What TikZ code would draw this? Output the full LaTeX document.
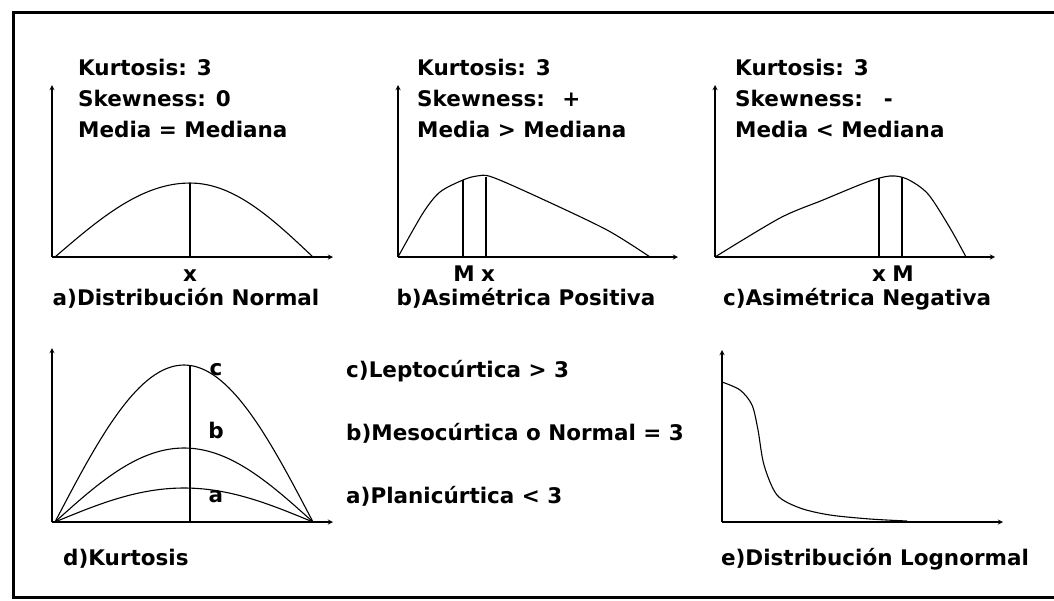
\documentclass[tikz,border=0pt]{standalone}
\usepackage{fontspec}
\setmainfont{DejaVu Sans}
\usepackage{tikz}
\usetikzlibrary{positioning}
\usetikzlibrary{calc}

\tikzset{
  lbl/.style={font=\fontsize{21.5}{25}\selectfont\bfseries,inner sep=0pt},
  axis/.style={->,line width=1.3pt},
  curve/.style={line width=1.1pt},
}

\begin{document}
\begin{tikzpicture}[>=stealth,x=1pt,y=-1pt]
  \useasboundingbox (0,0) rectangle (1054,600);
  % frame
  \draw[line width=3pt] (1054,12) -- (13,12) -- (13,597) -- (1054,597);

  % a) normal
  \draw[axis] (52,257) -- (52,85);
  \draw[axis] (52,257) -- (333,257);
  \draw[curve] plot[smooth,domain=0:90,samples=15] ({55+\x/90*135},{257-74*sin(\x)})
    -- plot[smooth,domain=90:180,samples=15] ({190+(\x-90)/90*123},{257-74*sin(\x)});
  \draw[line width=1.3pt] (190,183) -- (190,257);
  \node[lbl,anchor=base west] (ka) at (78,75) {Kurtosis: 3};
  \node[lbl,anchor=base west] (sa) at (78,106) {Skewness: 0};
  \node[lbl,anchor=base west] (ma) at (78,137) {Media = Mediana};
  \node[lbl,anchor=base] (xa) at (190,281) {x};
  \node[lbl,anchor=base] (ta) at (186,305) {a)Distribución Normal};

  % b) asimetrica positiva
  \draw[axis] (398,257) -- (398,85);
  \draw[axis] (398,257) -- (678,257);
  \draw[curve] plot[smooth] coordinates {(398,257) (423,213) (440,192) (463,180) (477,176) (492,177) (540,198) (607,230) (650,257)};
  \draw[line width=1.3pt] (463,180) -- (463,257);
  \draw[line width=1.3pt] (486,177) -- (486,257);
  \node[lbl,anchor=base west] (kb) at (417,75) {Kurtosis: 3};
  \node[lbl,anchor=base west] (sb) at (417,106) {Skewness: \ +};
  \node[lbl,anchor=base west] (mb) at (417,137) {Media > Mediana};
  \node[lbl,anchor=base] (Mb) at (464,281) {M};
  \node[lbl,anchor=base] (xb) at (488,281) {x};
  \node[lbl,anchor=base] (tb) at (526,305) {b)Asimétrica Positiva};

  % c) asimetrica negativa
  \draw[axis] (715,257) -- (715,85);
  \draw[axis] (715,257) -- (995,257);
  \draw[curve] plot[smooth] coordinates {(715,257) (780,218) (823,200) (867,182) (890,176) (907,179) (928,194) (950,228) (966,257)};
  \draw[line width=1.3pt] (879,178) -- (879,257);
  \draw[line width=1.3pt] (902,177) -- (902,257);
  \node[lbl,anchor=base west] (kc) at (735,75) {Kurtosis: 3};
  \node[lbl,anchor=base west] (sc) at (735,106) {Skewness: \ \,-};
  \node[lbl,anchor=base west] (mc) at (735,137) {Media < Mediana};
  \node[lbl,anchor=base] (xc) at (879,281) {x};
  \node[lbl,anchor=base] (Mc) at (903,281) {M};
  \node[lbl,anchor=base] (tc) at (857,305) {c)Asimétrica Negativa};

  % d) kurtosis
  \draw[axis] (52,522) -- (52,348);
  \draw[axis] (52,522) -- (333,522);
  \draw[curve] plot[smooth,domain=0:180,samples=25] ({55+\x/180*258},{522-157*sin(\x)});
  \draw[curve] plot[smooth,domain=0:180,samples=25] ({55+\x/180*258},{522-74*sin(\x)});
  \draw[curve] plot[smooth,domain=0:180,samples=25] ({55+\x/180*258},{522-34*sin(\x)});
  \draw[line width=1.3pt] (190,365) -- (190,522);
  \node[lbl,anchor=base] (lc) at (216,375) {c};
  \node[lbl,anchor=base] (lb) at (216,438) {b};
  \node[lbl,anchor=base] (la) at (216,502) {a};
  \node[lbl,anchor=base west] (td) at (63,565) {d)Kurtosis};

  % legend
  \node[lbl,anchor=base west] (lepto) at (346,377) {c)Leptocúrtica > 3};
  \node[lbl,anchor=base west] (meso) at (346,440) {b)Mesocúrtica o Normal = 3};
  \node[lbl,anchor=base west] (plani) at (346,503) {a)Planicúrtica < 3};

  % e) lognormal
  \draw[axis] (722,522) -- (722,350);
  \draw[axis] (722,522) -- (1003,522);
  \draw[curve] plot[smooth] coordinates {(722,382) (740,390) (752,405) (758,430) (764,465) (777,495) (800,508) (830,515) (870,519) (907,521)};
  \node[lbl,anchor=base] (te) at (875,565) {e)Distribución Lognormal};
\end{tikzpicture}
\end{document}
